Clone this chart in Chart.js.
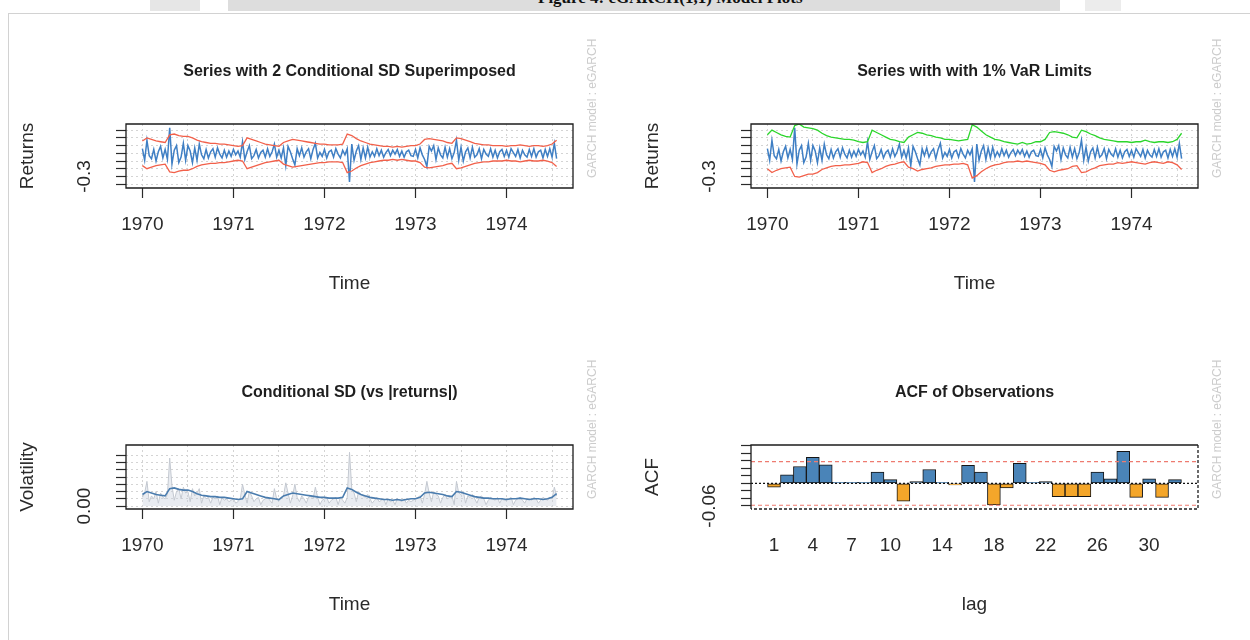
<!DOCTYPE html>
<html>
<head>
<meta charset="utf-8">
<title>eGARCH(1,1) model plots</title>
<script src="https://cdn.jsdelivr.net/npm/chart.js@4.4.1/dist/chart.umd.min.js"></script>
<style>
  html, body { margin: 0; padding: 0; background: #fff; }
  body { width: 1250px; height: 640px; position: relative; overflow: hidden; }
  #head { position: absolute; left: 0; top: 0; width: 1250px; height: 11px; overflow: hidden; }
  .band { position: absolute; top: 0; height: 11px; }
  #caption { position: absolute; left: 538px; top: -12px; font: bold 17px "Liberation Serif", serif; color: #111; white-space: nowrap; }
  #sheet { position: absolute; left: 8px; top: 13px; width: 1260px; height: 640px; border-left: 1px solid #d2d2d2; border-top: 1px solid #d2d2d2; }
  canvas { position: absolute; display: block; }
  #c1 { left: 0; top: 0; }
  #c2 { left: 625px; top: 0; }
  #c3 { left: 0; top: 321px; }
  #c4 { left: 625px; top: 321px; }
</style>
</head>
<body>
<div id="head">
  <div class="band" style="left:150px;width:50px;background:#e6e6e6"></div>
  <div class="band" style="left:228px;width:832px;background:#dddddd"></div>
  <div class="band" style="left:1085px;width:36px;background:#ececec"></div>
  <div id="caption">Figure 4: eGARCH(1,1) Model Plots</div>
</div>
<div id="sheet"></div>
<canvas id="c1" width="625" height="321"></canvas>
<canvas id="c2" width="625" height="321"></canvas>
<canvas id="c3" width="625" height="319"></canvas>
<canvas id="c4" width="625" height="319"></canvas>
<script>
// returns, sampled every 0.025 years from 1970.0
const retStart = 1970;
const retStep = 0.025;
const returns = [
  0.06, -0.09, 0.17, -0.03, -0.07, 0.05, -0.10, 0.02, 0.09, -0.06,
  0.05, -0.08, 0.33, -0.14, 0.04, 0.10, -0.12, -0.05, 0.13, -0.09,
  0.10, 0.03, -0.12, 0.07, -0.09, 0.12, -0.02, -0.07, 0.05, -0.06,
  0.02, 0.06, -0.05, 0.07, -0.01, -0.06, 0.04, -0.05, 0.03, -0.04,
  0.05, -0.02, 0.03, -0.05, 0.15, -0.08, 0.02, 0.10, -0.07, -0.03,
  0.05, -0.06, 0.01, 0.04, -0.05, 0.06, -0.04, 0.02, 0.12, -0.05,
  0.04, -0.06, 0.07, -0.16, 0.09, 0.02, -0.07, -0.15, 0.06, -0.03,
  0.07, -0.05, 0.02, 0.06, -0.07, 0.05, 0.13, -0.06, 0.01, -0.04,
  0.05, -0.06, 0.02, 0.04, -0.05, 0.06, -0.01, -0.06, 0.04, -0.02,
  0.06, -0.37, 0.12, -0.09, 0.03, 0.10, -0.08, 0.07, -0.06, 0.08,
  -0.05, 0.02, -0.04, 0.06, -0.03, 0.04, -0.05, 0.01, 0.05, -0.03,
  0.04, -0.01, 0.05, -0.04, 0.03, -0.05, 0.02, 0.04, -0.03, -0.04,
  0.05, -0.06, 0.07, -0.02, -0.08, -0.17, 0.09, 0.03, 0.10, -0.08,
  0.07, -0.02, -0.06, 0.08, -0.05, 0.06, -0.07, 0.01, 0.17, -0.09,
  0.08, -0.10, 0.02, 0.07, -0.06, 0.08, -0.05, -0.02, 0.06, -0.07,
  0.05, -0.01, -0.04, 0.06, -0.05, 0.04, -0.06, 0.02, 0.05, -0.04,
  0.04, -0.05, 0.06, 0.01, -0.04, 0.05, -0.06, 0.04, -0.02, -0.05,
  0.05, -0.04, 0.06, -0.05, 0.02, 0.04, -0.06, 0.05, -0.04, 0.06,
  -0.05, 0.13, -0.07
];

// conditional sd and 1% / 99% VaR, sampled every 0.05 years from 1970.0
const volStart = 1970;
const volStep = 0.05;
const sigma = [
  0.080, 0.100, 0.090, 0.080, 0.075, 0.070, 0.120, 0.125, 0.115, 0.110,
  0.110, 0.100, 0.085, 0.075, 0.070, 0.065, 0.065, 0.060, 0.060, 0.055,
  0.050, 0.045, 0.050, 0.100, 0.090, 0.080, 0.070, 0.060, 0.055, 0.050,
  0.045, 0.070, 0.080, 0.090, 0.085, 0.080, 0.075, 0.070, 0.065, 0.060,
  0.060, 0.055, 0.055, 0.055, 0.060, 0.125, 0.115, 0.095, 0.080, 0.070,
  0.060, 0.055, 0.050, 0.045, 0.045, 0.040, 0.045, 0.040, 0.045, 0.050,
  0.050, 0.060, 0.090, 0.095, 0.090, 0.085, 0.080, 0.070, 0.065, 0.100,
  0.095, 0.085, 0.075, 0.065, 0.060, 0.055, 0.055, 0.050, 0.050, 0.050,
  0.045, 0.050, 0.050, 0.055, 0.050, 0.045, 0.050, 0.050, 0.045, 0.050,
  0.060, 0.085
];
const varUpper = [
  0.24, 0.30, 0.27, 0.24, 0.22, 0.21, 0.36, 0.38, 0.34, 0.33,
  0.32, 0.30, 0.26, 0.23, 0.21, 0.20, 0.19, 0.18, 0.18, 0.17,
  0.15, 0.14, 0.15, 0.30, 0.27, 0.24, 0.21, 0.18, 0.17, 0.15,
  0.14, 0.21, 0.24, 0.27, 0.26, 0.24, 0.23, 0.21, 0.20, 0.18,
  0.18, 0.17, 0.16, 0.17, 0.18, 0.37, 0.34, 0.29, 0.24, 0.21,
  0.18, 0.17, 0.15, 0.14, 0.13, 0.12, 0.14, 0.12, 0.13, 0.15,
  0.15, 0.18, 0.27, 0.28, 0.27, 0.26, 0.24, 0.21, 0.20, 0.30,
  0.28, 0.25, 0.23, 0.20, 0.18, 0.17, 0.16, 0.15, 0.15, 0.15,
  0.14, 0.15, 0.15, 0.17, 0.15, 0.14, 0.15, 0.15, 0.14, 0.15,
  0.18, 0.26
];
const varLower = [
  -0.20, -0.25, -0.22, -0.20, -0.19, -0.18, -0.30, -0.31, -0.29, -0.27,
  -0.27, -0.25, -0.21, -0.19, -0.17, -0.16, -0.16, -0.15, -0.15, -0.14,
  -0.13, -0.11, -0.12, -0.25, -0.22, -0.20, -0.17, -0.15, -0.14, -0.12,
  -0.11, -0.18, -0.20, -0.23, -0.21, -0.20, -0.19, -0.17, -0.16, -0.15,
  -0.15, -0.14, -0.14, -0.13, -0.15, -0.32, -0.29, -0.24, -0.20, -0.17,
  -0.15, -0.14, -0.12, -0.11, -0.11, -0.10, -0.11, -0.10, -0.11, -0.12,
  -0.13, -0.15, -0.22, -0.24, -0.22, -0.21, -0.20, -0.17, -0.16, -0.25,
  -0.24, -0.21, -0.19, -0.16, -0.15, -0.14, -0.14, -0.12, -0.13, -0.12,
  -0.11, -0.12, -0.13, -0.14, -0.12, -0.11, -0.12, -0.13, -0.11, -0.12,
  -0.15, -0.21
];

// time axis
const yearTicks = [1970, 1971, 1972, 1973, 1974];
const yearGrid = [1970, 1970.5, 1971, 1971.5, 1972, 1972.5, 1973, 1973.5, 1974, 1974.5];
const timeMin = 1969.82;
const timeMax = 1974.73;

// acf
const acfLags = [1, 2, 3, 4, 5, 6, 7, 8, 9, 10, 11, 12, 13, 14, 15, 16,
  17, 18, 19, 20, 21, 22, 23, 24, 25, 26, 27, 28, 29, 30, 31, 32];
const acfValues = [
  -0.010, 0.023, 0.045, 0.069, 0.049, 0.003, 0.003, 0.003,
  0.030, 0.010, -0.047, 0.005, 0.037, 0.003, -0.004, 0.048,
  0.030, -0.057, -0.012, 0.053, 0.003, 0.005, -0.035, -0.035,
  -0.035, 0.030, 0.012, 0.085, -0.037, 0.012, -0.037, 0.010
];
const acfLagLabels = [1, 4, 7, 10, 14, 18, 22, 26, 30];
const acfConf = 0.058;
const lagMin = -0.78;
const lagMax = 33.78;

const ink = "#2a2a2a";
const steel = "#3f7fc4";
const tomato = "#f2604a";
const lime = "#2bd62b";
const gridGrey = "#d4d4d4";
const fontFamily = "'Liberation Sans', Arial, sans-serif";
const axisFont = { family: fontFamily, size: 19 };
const headFont = { family: fontFamily, size: 16, weight: "bold" };

const BOX = { left: 126, right: 573, top: 124, bottom: 188 };
const PANEL_W = 625;

function series(start, step, values) {
  return values.map((v, i) => ({ x: start + i * step, y: v }));
}

// plot box like R's box()
const boxFrame = {
  id: "boxFrame",
  afterDatasetsDraw(chart, args, opts) {
    const { ctx, chartArea: a } = chart;
    ctx.save();
    ctx.strokeStyle = "#1c1c1c";
    ctx.lineWidth = 1.3;
    ctx.beginPath();
    ctx.moveTo(a.left, a.bottom);
    ctx.lineTo(a.left, a.top);
    ctx.lineTo(a.right, a.top);
    if (!opts.dashedEdges) {
      ctx.lineTo(a.right, a.bottom);
      ctx.closePath();
    }
    ctx.stroke();
    if (opts.dashedEdges) {
      ctx.setLineDash([3, 2]);
      ctx.beginPath();
      ctx.moveTo(a.right, a.top);
      ctx.lineTo(a.right, a.bottom);
      ctx.lineTo(a.left, a.bottom);
      ctx.stroke();
    }
    ctx.restore();
  },
};

// rugarch side note
const watermark = {
  id: "watermark",
  afterDraw(chart) {
    const { ctx, chartArea: a } = chart;
    ctx.save();
    ctx.translate(a.right + 20, a.bottom - 10);
    ctx.rotate(-Math.PI / 2);
    ctx.font = "12px " + fontFamily;
    ctx.fillStyle = "#cccccc";
    ctx.textAlign = "left";
    ctx.textBaseline = "middle";
    ctx.fillText("GARCH model : eGARCH", 0, 0);
    ctx.restore();
  },
};

function panelScales(cfg) {
  const h = cfg.height;
  return {
    x: {
      type: "linear",
      position: "bottom",
      offset: false,
      min: cfg.xMin,
      max: cfg.xMax,
      afterBuildTicks: (s) => { s.ticks = cfg.xTicks.map((v) => ({ value: v })); },
      afterFit: (s) => { s.height = h - BOX.bottom; },
      ticks: {
        autoSkip: false, maxRotation: 0, color: ink, font: axisFont,
        padding: cfg.xTickMarks ? 15 : 25,
        callback: (v) => String(v),
      },
      grid: {
        offset: false, drawOnChartArea: false, drawTicks: cfg.xTickMarks,
        tickLength: 10, tickColor: ink, tickWidth: 1.2, tickBorderDash: [],
      },
      border: { display: false },
      title: {
        display: true, text: cfg.xTitle, color: ink, font: axisFont,
        padding: { top: 0, bottom: h - 284 - 11.4 },
      },
    },
    top: {
      type: "linear",
      position: "top",
      min: cfg.xMin,
      max: cfg.xMax,
      afterBuildTicks: (s) => { s.ticks = cfg.xGrid.map((v) => ({ value: v })); },
      afterFit: (s) => { s.height = BOX.top; },
      ticks: { display: false },
      grid: { display: cfg.xGrid.length > 0, drawTicks: false, color: gridGrey },
      border: { display: false, dash: [2, 3] },
      title: {
        display: true, text: cfg.title, color: "#1e1e1e", font: headFont,
        padding: { top: 62, bottom: 0 },
      },
    },
    y: {
      type: "linear",
      position: "left",
      min: cfg.yMin,
      max: cfg.yMax,
      afterBuildTicks: (s) => { s.ticks = cfg.yTicks.map((v) => ({ value: v })); },
      afterFit: (s) => { s.width = BOX.left; },
      ticks: {
        autoSkip: false, minRotation: 90, maxRotation: 90, crossAlign: "center",
        padding: cfg.yPad, color: ink, font: axisFont,
        callback: (v) => (Math.abs(v - cfg.yLabelAt) < 1e-9 ? cfg.yLabelText : ""),
      },
      grid: {
        drawOnChartArea: cfg.yGrid, color: gridGrey, tickLength: 10,
        tickColor: ink, tickWidth: 1.2, tickBorderDash: [],
      },
      border: { display: false, dash: [2, 3] },
      title: {
        display: true, text: cfg.yTitle, color: ink, font: axisFont,
        padding: { top: 16.6, bottom: 0 },
      },
    },
  };
}

function makePanel(id, cfg) {
  return new Chart(document.getElementById(id), {
    type: cfg.type || "line",
    data: { datasets: cfg.datasets },
    options: {
      responsive: false,
      animation: false,
      devicePixelRatio: 1,
      layout: { padding: { left: 0, right: PANEL_W - BOX.right, top: 0, bottom: 0 } },
      elements: { point: { radius: 0 }, line: { tension: 0 } },
      plugins: {
        legend: { display: false },
        tooltip: { enabled: false },
        boxFrame: { dashedEdges: !!cfg.dashedEdges },
      },
      scales: panelScales(cfg),
    },
    plugins: [boxFrame, watermark],
  });
}

const timeAxis = {
  xMin: timeMin, xMax: timeMax, xTicks: yearTicks, xGrid: yearGrid,
  xTickMarks: true, xTitle: "Time",
};
const returnsAxis = {
  yMin: -0.45, yMax: 0.38, yTicks: [-0.4, -0.3, -0.2, -0.1, 0, 0.1, 0.2, 0.3],
  yLabelAt: -0.3, yLabelText: "-0.3", yPad: 14.6, yGrid: true, yTitle: "Returns",
};

makePanel("c1", {
  ...timeAxis, ...returnsAxis, height: 321,
  title: "Series with 2 Conditional SD Superimposed",
  datasets: [
    { data: series(volStart, volStep, sigma.map((s) => 2 * s)), borderColor: tomato, borderWidth: 1.3 },
    { data: series(volStart, volStep, sigma.map((s) => -2 * s)), borderColor: tomato, borderWidth: 1.3 },
    { data: series(retStart, retStep, returns), borderColor: steel, borderWidth: 1.5 },
  ],
});

makePanel("c2", {
  ...timeAxis, ...returnsAxis, height: 321,
  title: "Series with with 1% VaR Limits",
  datasets: [
    { data: series(volStart, volStep, varUpper), borderColor: lime, borderWidth: 1.3 },
    { data: series(volStart, volStep, varLower), borderColor: tomato, borderWidth: 1.3 },
    { data: series(retStart, retStep, returns), borderColor: steel, borderWidth: 1.5 },
  ],
});

makePanel("c3", {
  ...timeAxis, height: 319,
  title: "Conditional SD (vs |returns|)",
  yMin: -0.02, yMax: 0.42, yTicks: [0, 0.05, 0.1, 0.15, 0.2, 0.25, 0.3, 0.35],
  yLabelAt: 0, yLabelText: "0.00", yPad: 12.5, yGrid: true, yTitle: "Volatility",
  datasets: [
    { data: series(volStart, volStep, sigma), borderColor: "#4a7cae", borderWidth: 1.6 },
    {
      data: series(retStart, retStep, returns.map((r) => Math.abs(r))),
      borderColor: "#c4c9d1", borderWidth: 1, fill: "origin",
      backgroundColor: "rgba(200, 208, 220, 0.4)",
    },
  ],
});

makePanel("c4", {
  type: "bar", height: 319, dashedEdges: true,
  title: "ACF of Observations",
  xMin: lagMin, xMax: lagMax, xTicks: acfLagLabels, xGrid: [], xTickMarks: false, xTitle: "lag",
  yMin: -0.068, yMax: 0.102, yTicks: [-0.06, -0.04, -0.02, 0, 0.02, 0.04, 0.06, 0.08, 0.1],
  yLabelAt: -0.06, yLabelText: "-0.06", yPad: 9.3, yGrid: false, yTitle: "ACF",
  datasets: [
    {
      type: "line", data: [{ x: lagMin, y: acfConf }, { x: lagMax, y: acfConf }],
      borderColor: "#ee7b70", borderWidth: 1.2, borderDash: [4, 3],
    },
    {
      type: "line", data: [{ x: lagMin, y: -acfConf }, { x: lagMax, y: -acfConf }],
      borderColor: "#ee7b70", borderWidth: 1.2, borderDash: [4, 3],
    },
    {
      type: "line", data: [{ x: lagMin, y: 0 }, { x: lagMax, y: 0 }],
      borderColor: "#111111", borderWidth: 1.2, borderDash: [2, 2],
    },
    {
      type: "bar",
      data: acfLags.map((lag, i) => ({ x: lag, y: acfValues[i] })),
      backgroundColor: acfValues.map((v) => (v < 0 ? "#f4a62a" : "#4a84b8")),
      borderColor: "#151515",
      borderWidth: 1,
      borderSkipped: false,
      barPercentage: 1,
      categoryPercentage: 1,
    },
  ],
});
</script>
</body>
</html>
